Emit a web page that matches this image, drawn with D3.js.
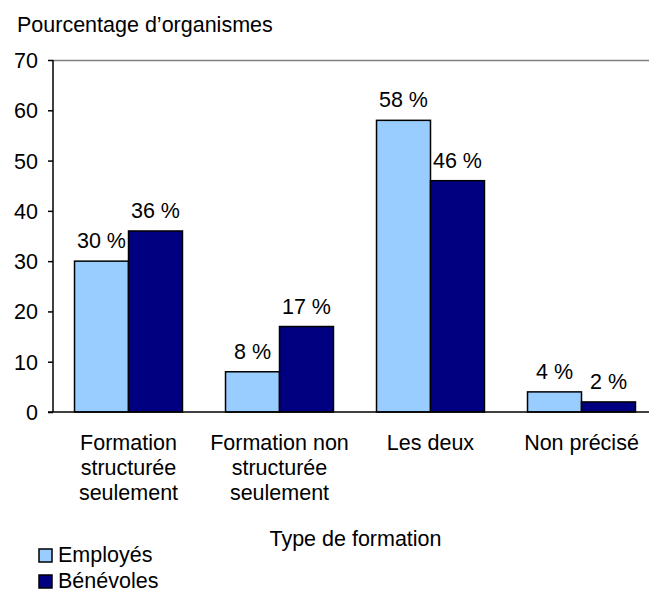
<!DOCTYPE html>
<html>
<head>
<meta charset="utf-8">
<script src="https://cdn.jsdelivr.net/npm/d3@7"></script>
<style>
  html, body { margin: 0; padding: 0; background: #fff; }
  svg text { font-family: Arial, "Liberation Sans", sans-serif; fill: #000; }
</style>
</head>
<body>
<svg id="chart" width="649" height="593"></svg>
<script>
// data
const categories = [
  ["Formation", "structurée", "seulement"],
  ["Formation non", "structurée", "seulement"],
  ["Les deux"],
  ["Non précisé"]
];
const seriesNames = ["Employés", "Bénévoles"];
const employes = [30, 8, 58, 4];
const benevoles = [36, 17, 46, 2];
const yTicks = [0, 10, 20, 30, 40, 50, 60, 70];
const colors = ["#99CCFF", "#000080"];

const svg = d3.select("#chart");
const fontSize = 21.5;

const margin = { left: 53, top: 60 };
const plotBottom = 412;
const plotRight = 657; // plot runs past the right edge, as in the original

const y = d3.scaleLinear().domain([0, 70]).range([plotBottom, margin.top]);
const x0 = d3.scaleBand()
    .domain(d3.range(categories.length))
    .range([margin.left, plotRight])
    .paddingInner(0.285)
    .paddingOuter(0.1425);
const x1 = d3.scaleBand()
    .domain([0, 1])
    .range([0, x0.bandwidth()]);

// top border of plot area
svg.append("line")
    .attr("x1", margin.left).attr("x2", plotRight)
    .attr("y1", y(70) + 0.5).attr("y2", y(70) + 0.5)
    .attr("stroke", "#808080").attr("stroke-width", 1.5);

// bars
const rows = categories.map((c, i) => [employes[i], benevoles[i]]);
const groups = svg.append("g").selectAll("g")
    .data(rows)
    .join("g")
    .attr("transform", (d, i) => `translate(${x0(i)},0)`);

groups.selectAll("rect")
    .data(d => d)
    .join("rect")
    .attr("x", (d, j) => x1(j))
    .attr("y", d => y(d))
    .attr("width", x1.bandwidth())
    .attr("height", d => y(0) - y(d))
    .attr("fill", (d, j) => colors[j])
    .attr("stroke", "#000")
    .attr("stroke-width", 1.5);

groups.selectAll("text")
    .data(d => d)
    .join("text")
    .attr("x", (d, j) => x1(j) + x1.bandwidth() / 2)
    .attr("y", d => y(d) - 13)
    .attr("text-anchor", "middle")
    .attr("font-size", fontSize)
    .text(d => d + " %");

// y axis
const yAxis = d3.axisLeft(y).tickValues(yTicks).tickSize(5).tickPadding(10);
const gy = svg.append("g")
    .attr("transform", `translate(${margin.left},0)`)
    .call(yAxis);
gy.select(".domain").attr("stroke", "#000").attr("stroke-width", 1.5)
    .attr("d", `M0,${y(70)}V${y(0)}`);
gy.selectAll(".tick line").attr("stroke", "#000").attr("stroke-width", 1.5);
gy.selectAll(".tick text")
    .attr("font-size", fontSize)
    .attr("font-family", "Arial, 'Liberation Sans', sans-serif")
    .attr("dy", "0.35em");

// x axis baseline
svg.append("line")
    .attr("x1", margin.left - 5).attr("x2", plotRight)
    .attr("y1", y(0)).attr("y2", y(0))
    .attr("stroke", "#000").attr("stroke-width", 1.5);

// category labels
svg.append("g").selectAll("text")
    .data(categories)
    .join("text")
    .attr("text-anchor", "middle")
    .attr("font-size", fontSize)
    .attr("y", 450)
    .each(function(lines, i) {
      d3.select(this).selectAll("tspan")
        .data(lines)
        .join("tspan")
        .attr("x", x0(i) + x0.bandwidth() / 2)
        .attr("dy", (l, k) => k === 0 ? 0 : 25)
        .text(l => l);
    });

// titles
svg.append("text")
    .attr("x", 17).attr("y", 32)
    .attr("font-size", fontSize)
    .text("Pourcentage d’organismes");

svg.append("text")
    .attr("x", 355.5).attr("y", 546)
    .attr("text-anchor", "middle")
    .attr("font-size", fontSize)
    .text("Type de formation");

// legend
const legend = svg.append("g").selectAll("g")
    .data(seriesNames)
    .join("g")
    .attr("transform", (d, i) => `translate(39,${549 + i * 26})`);
legend.append("rect")
    .attr("width", 13).attr("height", 13)
    .attr("fill", (d, i) => colors[i])
    .attr("stroke", "#000").attr("stroke-width", 1.5);
legend.append("text")
    .attr("x", 19).attr("y", 13)
    .attr("font-size", fontSize)
    .text(d => d);
</script>
</body>
</html>
